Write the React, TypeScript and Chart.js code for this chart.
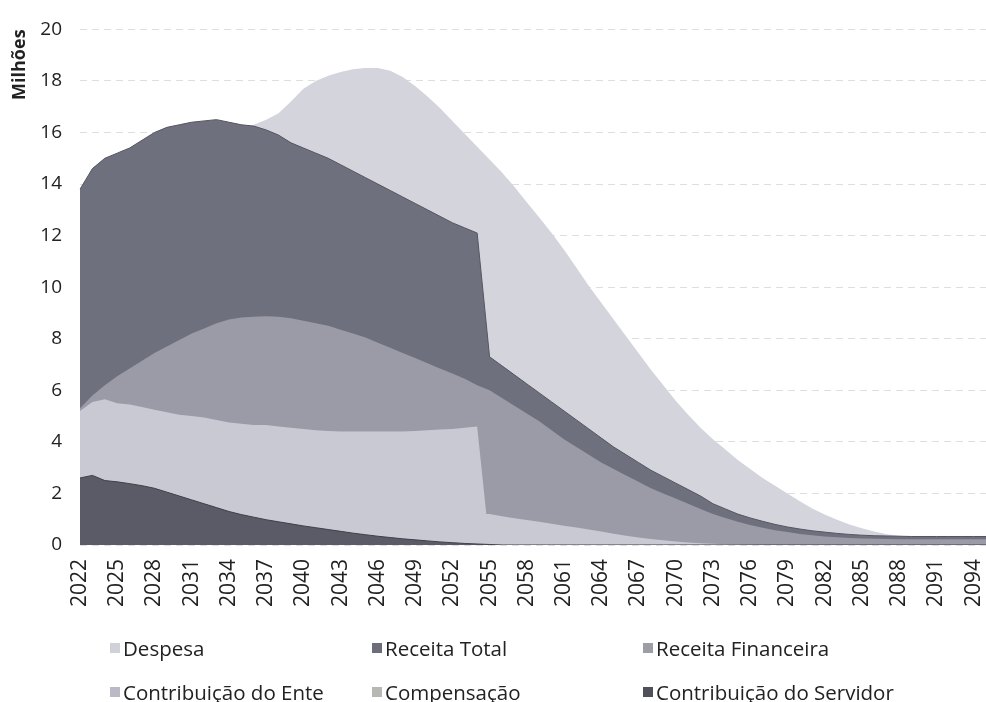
import React, { useEffect, useRef } from 'react';
import { Chart, registerables } from 'chart.js';

Chart.register(...registerables);

const years = [
  '2022', '2023', '2024', '2025', '2026', '2027', '2028', '2029', '2030', '2031',
  '2032', '2033', '2034', '2035', '2036', '2037', '2038', '2039', '2040', '2041',
  '2042', '2043', '2044', '2045', '2046', '2047', '2048', '2049', '2050', '2051',
  '2052', '2053', '2054', '2055', '2056', '2057', '2058', '2059', '2060', '2061',
  '2062', '2063', '2064', '2065', '2066', '2067', '2068', '2069', '2070', '2071',
  '2072', '2073', '2074', '2075', '2076', '2077', '2078', '2079', '2080', '2081',
  '2082', '2083', '2084', '2085', '2086', '2087', '2088', '2089', '2090', '2091',
  '2092', '2093', '2094', '2095',
];

const tickYears = [
  '2022', '2025', '2028', '2031', '2034', '2037', '2040', '2043', '2046', '2049',
  '2052', '2055', '2058', '2061', '2064', '2067', '2070', '2073', '2076', '2079',
  '2082', '2085', '2088', '2091', '2094',
];

const despesa = [
  9.8, 10.3, 10.8, 11.3, 11.8, 12.3, 12.8, 13.3, 13.8, 14.3,
  14.8, 15.3, 15.7, 16.0, 16.3, 16.5, 16.75, 17.2, 17.7, 18.0,
  18.2, 18.35, 18.45, 18.5, 18.5, 18.4, 18.15, 17.8, 17.4, 16.95,
  16.45, 15.95, 15.45, 14.95, 14.45, 13.9, 13.3, 12.7, 12.1, 11.45,
  10.75, 10.05, 9.4, 8.75, 8.1, 7.45, 6.8, 6.2, 5.6, 5.05,
  4.55, 4.1, 3.7, 3.3, 2.95, 2.6, 2.3, 2.0, 1.7, 1.42,
  1.18, 0.98, 0.8, 0.65, 0.52, 0.42, 0.36, 0.34, 0.33, 0.33,
  0.33, 0.33, 0.33, 0.33,
];

const receitaTotal = [
  13.8, 14.6, 15.0, 15.2, 15.4, 15.7, 16.0, 16.2, 16.3, 16.4,
  16.45, 16.5, 16.4, 16.3, 16.25, 16.1, 15.9, 15.6, 15.4, 15.2,
  15.0, 14.75, 14.5, 14.25, 14.0, 13.75, 13.5, 13.25, 13.0, 12.75,
  12.5, 12.3, 12.1, 7.3, 6.95, 6.6, 6.25, 5.9, 5.55, 5.2,
  4.85, 4.5, 4.15, 3.8, 3.5, 3.2, 2.9, 2.65, 2.4, 2.15,
  1.9, 1.6, 1.4, 1.2, 1.05, 0.92, 0.8, 0.7, 0.62, 0.55,
  0.5, 0.45, 0.41, 0.38, 0.36, 0.35, 0.34, 0.33, 0.33, 0.33,
  0.33, 0.33, 0.33, 0.33,
];

const receitaFinanceira = [
  5.3, 5.8, 6.2, 6.55, 6.85, 7.15, 7.45, 7.7, 7.95, 8.2,
  8.4, 8.6, 8.75, 8.82, 8.85, 8.87, 8.85, 8.8, 8.7, 8.6,
  8.5, 8.35, 8.2, 8.05, 7.85, 7.65, 7.45, 7.25, 7.05, 6.85,
  6.65, 6.45, 6.2, 6.0, 5.7, 5.4, 5.1, 4.8, 4.45, 4.1,
  3.8, 3.5, 3.2, 2.95, 2.7, 2.45, 2.2, 2.0, 1.8, 1.6,
  1.4, 1.2, 1.05, 0.9, 0.78, 0.67, 0.57, 0.5, 0.43, 0.38,
  0.33, 0.3, 0.27, 0.25, 0.24, 0.23, 0.22, 0.22, 0.22, 0.22,
  0.22, 0.22, 0.22, 0.22,
];

const contribuicaoEnte = [
  5.2, 5.55, 5.65, 5.5, 5.45, 5.35, 5.25, 5.15, 5.05, 5.0,
  4.95, 4.85, 4.75, 4.7, 4.65, 4.65, 4.6, 4.55, 4.5, 4.45,
  4.42, 4.4, 4.4, 4.4, 4.4, 4.4, 4.4, 4.42, 4.45, 4.48,
  4.5, 4.55, 4.6, 0, 0, 0, 0, 0, 0, 0,
  0, 0, 0, 0, 0, 0, 0, 0, 0, 0,
  0, 0, 0, 0, 0, 0, 0, 0, 0, 0,
  0, 0, 0, 0, 0, 0, 0, 0, 0, 0,
  0, 0, 0, 0,
];

const compensacao = [
  0.6, 0.65, 0.7, 0.75, 0.8, 0.85, 0.9, 0.95, 1.0, 1.05,
  1.1, 1.12, 1.15, 1.17, 1.18, 1.2, 1.2, 1.2, 1.2, 1.2,
  1.2, 1.2, 1.2, 1.2, 1.2, 1.2, 1.2, 1.2, 1.2, 1.2,
  1.2, 1.2, 1.2, 1.2, 1.12, 1.04, 0.97, 0.9, 0.82, 0.75,
  0.68, 0.6, 0.52, 0.44, 0.36, 0.29, 0.23, 0.18, 0.14, 0.1,
  0.07, 0.05, 0.03, 0.02, 0.01, 0, 0, 0, 0, 0,
  0, 0, 0, 0, 0, 0, 0, 0, 0, 0,
  0, 0, 0, 0,
];

const contribuicaoServidor = [
  2.6, 2.7, 2.5, 2.45, 2.38, 2.3, 2.2, 2.05, 1.9, 1.75,
  1.6, 1.45, 1.3, 1.18, 1.08, 0.98, 0.9, 0.82, 0.74, 0.67,
  0.6, 0.53, 0.46, 0.4, 0.34, 0.29, 0.24, 0.2, 0.16, 0.12,
  0.09, 0.06, 0.04, 0.02, 0, 0, 0, 0, 0, 0,
  0, 0, 0, 0, 0, 0, 0, 0, 0, 0,
  0, 0, 0, 0, 0, 0, 0, 0, 0, 0,
  0, 0, 0, 0, 0, 0, 0, 0, 0, 0,
  0, 0, 0, 0,
];

const seriesNames = [
  'Despesa',
  'Receita Total',
  'Receita Financeira',
  'Contribuição do Ente',
  'Compensação',
  'Contribuição do Servidor',
];
const seriesColors = ['#d3d4dc', '#6f707d', '#9a9ba7', '#c8c9d2', '#c8c9d2', '#5a5b67'];
const legendColors = ['#d0d0d7', '#6d6d79', '#9d9da6', '#babac6', '#b7b7b3', '#50505b'];
const borderColors = ['#d3d4dc', '#55565f', '#9a9ba7', '#c8c9d2', '#c8c9d2', '#3e3f48'];
const borderWidths = [0, 1, 0, 0, 0, 1];

const FONT = "'Open Sans', 'Noto Sans', sans-serif";

export default function App() {
  const ref = useRef<HTMLCanvasElement>(null);

  useEffect(() => {
    const values = [
      despesa,
      receitaTotal,
      receitaFinanceira,
      contribuicaoEnte,
      compensacao,
      contribuicaoServidor,
    ];
    const chart = new Chart(ref.current as HTMLCanvasElement, {
      type: 'line',
      data: {
        labels: years,
        datasets: values.map((v, i) => ({
          label: seriesNames[i],
          data: v,
          backgroundColor: seriesColors[i],
          borderColor: borderColors[i],
          borderWidth: borderWidths[i],
          fill: 'origin',
          pointRadius: 0,
          pointHoverRadius: 0,
          tension: 0,
          order: values.length - i,
        })),
      },
      options: {
        responsive: false,
        animation: false,
        events: [],
        layout: { padding: { left: 8, right: 0, top: 20, bottom: 77 } },
        plugins: {
          legend: { display: false },
          tooltip: { enabled: false },
        },
        scales: {
          x: {
            grid: { display: false, drawTicks: false },
            border: { display: false },
            ticks: {
              autoSkip: false,
              minRotation: 90,
              maxRotation: 90,
              padding: 14,
              color: '#222',
              font: { family: FONT, size: 21 },
              callback: (_v: any, idx: number) =>
                tickYears.includes(years[idx]) ? years[idx] : null,
            },
            afterFit: (s: any) => {
              s.height = 80;
              s.paddingLeft = 0;
              s.paddingRight = 0;
            },
          },
          y: {
            min: 0,
            max: 20,
            ticks: {
              stepSize: 2,
              padding: 18,
              color: '#222',
              font: { family: FONT, size: 19 },
            },
            grid: { color: '#dedede', drawTicks: false, lineWidth: 1 },
            border: { display: false, dash: [7, 5] },
            title: {
              display: true,
              text: 'Milhões',
              align: 'end',
              color: '#222',
              font: { family: FONT, size: 18, weight: 'bold' },
              padding: { top: 1, bottom: 0 },
            },
            afterFit: (s: any) => {
              s.width = 72;
            },
          },
        },
      },
    } as any);
    return () => chart.destroy();
  }, []);

  const cols = [110, 372, 643];
  const rows = [648, 692];

  return (
    <div
      style={{
        position: 'fixed',
        left: 0,
        top: 0,
        width: 986,
        height: 702,
        background: '#fff',
        overflow: 'hidden',
      }}
    >
      <canvas ref={ref} width={986} height={702} style={{ display: 'block', width: 986, height: 702 }} />
      {seriesNames.map((name, i) => {
        const x = cols[i % 3];
        const y = rows[Math.floor(i / 3)];
        return (
          <div key={name}>
            <div
              style={{
                position: 'absolute',
                left: x,
                top: y - 5,
                width: 10,
                height: 10,
                background: legendColors[i],
              }}
            />
            <div
              style={{
                position: 'absolute',
                left: x + 13,
                top: y - 14,
                height: 28,
                lineHeight: '28px',
                fontFamily: FONT,
                fontSize: 20.5,
                color: '#222',
                whiteSpace: 'nowrap',
              }}
            >
              {name}
            </div>
          </div>
        );
      })}
    </div>
  );
}
